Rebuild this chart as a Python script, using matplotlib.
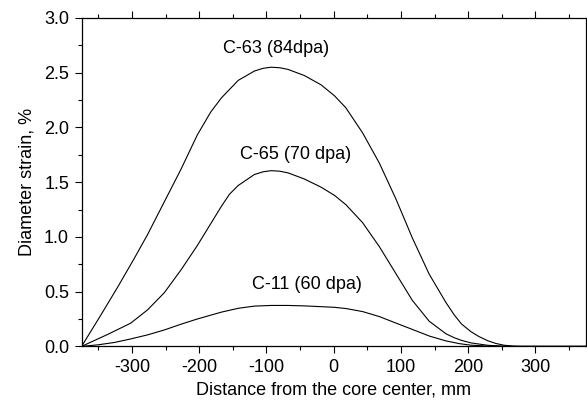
import matplotlib
matplotlib.use("Agg")
import matplotlib.pyplot as plt
from matplotlib.ticker import MultipleLocator, FormatStrFormatter

plt.rcParams['font.family'] = ['Liberation Sans', 'DejaVu Sans']
plt.rcParams['axes.unicode_minus'] = False

# C-63 (84 dpa)
x_c63 = [-375, -346, -321, -297, -277, -252, -227, -203, -183, -167, -142, -118, -105,
         -93, -80, -68, -44, -19, 1, 18, 43, 68, 93, 117, 142, 167, 179, 190, 204, 216,
         229, 241, 253, 268, 280, 375]
y_c63 = [0, 0.29, 0.545, 0.80, 1.02, 1.32, 1.62, 1.93, 2.14, 2.27, 2.43, 2.515, 2.54,
         2.55, 2.545, 2.53, 2.475, 2.39, 2.29, 2.18, 1.95, 1.673, 1.34, 0.99, 0.66, 0.40,
         0.29, 0.205, 0.135, 0.09, 0.052, 0.027, 0.011, 0.002, 0.0, 0.0]

# C-65 (70 dpa)
x_c65 = [-375, -336, -302, -277, -252, -227, -203, -183, -167, -155, -142, -118, -105,
         -93, -80, -68, -44, -19, 1, 18, 43, 68, 93, 117, 142, 167, 179, 190, 204, 229,
         253, 270, 375]
y_c65 = [0, 0.11, 0.212, 0.333, 0.49, 0.70, 0.92, 1.12, 1.28, 1.39, 1.47, 1.57, 1.595,
         1.605, 1.60, 1.585, 1.53, 1.455, 1.38, 1.295, 1.13, 0.91, 0.66, 0.42, 0.23,
         0.115, 0.08, 0.055, 0.032, 0.01, 0.002, 0.0, 0.0]

# C-11 (60 dpa)
x_c11 = [-375, -351, -326, -302, -277, -252, -227, -203, -183, -167, -142, -118, -93,
         -68, -44, -19, 1, 18, 43, 68, 93, 117, 142, 167, 187, 204, 229, 253, 375]
y_c11 = [0, 0.014, 0.036, 0.068, 0.105, 0.15, 0.203, 0.25, 0.285, 0.313, 0.348, 0.368,
         0.374, 0.374, 0.37, 0.363, 0.357, 0.346, 0.318, 0.272, 0.212, 0.155, 0.095,
         0.05, 0.025, 0.011, 0.003, 0.0, 0.0]

labels = ["C-63 (84dpa)", "C-65 (70 dpa)", "C-11 (60 dpa)"]
label_x = [-86, -56, -40]
label_y = [2.72, 1.75, 0.565]

fig = plt.figure(figsize=(5.87, 4.08), dpi=100)
ax = fig.add_axes([0.139, 0.151, 0.859, 0.805])

for xs, ys in [(x_c63, y_c63), (x_c65, y_c65), (x_c11, y_c11)]:
    ax.plot(xs, ys, color='black', linewidth=0.8, solid_joinstyle='round')

for t, lx, ly in zip(labels, label_x, label_y):
    ax.text(lx, ly, t, fontsize=13, ha='center', va='center')

ax.set_xlim(-375, 375)
ax.set_ylim(0, 3.0)
ax.xaxis.set_major_locator(MultipleLocator(100))
ax.xaxis.set_minor_locator(MultipleLocator(50))
ax.yaxis.set_major_locator(MultipleLocator(0.5))
ax.yaxis.set_minor_locator(MultipleLocator(0.25))
ax.yaxis.set_major_formatter(FormatStrFormatter('%.1f'))

ax.tick_params(which='both', direction='out', top=True, right=False, labelsize=13, width=0.8)
ax.tick_params(which='major', length=5, pad=4)
ax.tick_params(which='minor', length=3)
for s in ax.spines.values():
    s.set_linewidth(0.9)

ax.set_xlabel("Distance from the core center, mm", fontsize=13, labelpad=4)
ax.set_ylabel("Diameter strain, %", fontsize=13, labelpad=6)

fig.savefig("out.png", dpi=100)
